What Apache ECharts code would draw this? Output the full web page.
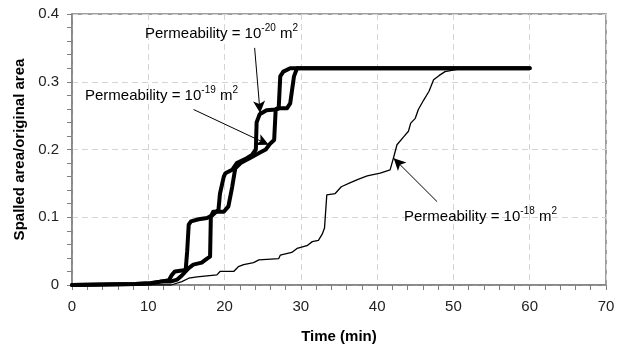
<!DOCTYPE html>
<html>
<head>
<meta charset="utf-8">
<script src="https://cdn.jsdelivr.net/npm/echarts@6/dist/echarts.min.js"></script>
<style>
html,body{margin:0;padding:0;background:#fff;}
#chart{width:624px;height:350px;}
</style>
</head>
<body>
<div id="chart"></div>
<script>
// ---- Data (time in min, spalled area / original area) ----
const perm20 = [[0,0],[8.3,0.0015],[10.3,0.0025],[11.6,0.005],[12.7,0.007],[13.1,0.015],[13.5,0.02],[14.9,0.022],[15.1,0.05],[15.3,0.089],[15.6,0.094],[16.6,0.097],[17.7,0.099],[18.4,0.103],[18.9,0.108],[19.2,0.111],[19.4,0.135],[19.9,0.16],[20.1,0.165],[21,0.17],[21.6,0.18],[22.9,0.187],[23.6,0.192],[24.1,0.2],[24.2,0.24],[24.6,0.252],[25.5,0.258],[26.7,0.259],[27.1,0.262],[27.3,0.308],[27.7,0.315],[28.6,0.32],[60,0.32]];
const perm19 = [[0,0],[8.3,0.0015],[10.3,0.0025],[11.6,0.005],[12.9,0.005],[13.8,0.008],[14.4,0.014],[15.3,0.025],[15.9,0.03],[17,0.033],[17.7,0.039],[18.1,0.042],[18.2,0.101],[18.5,0.108],[19.9,0.108],[20.5,0.116],[21,0.145],[21.4,0.172],[22.1,0.18],[23.4,0.188],[24.7,0.196],[25.4,0.2],[26,0.209],[26.5,0.214],[26.7,0.259],[27.3,0.261],[28.2,0.261],[28.6,0.268],[29.1,0.308],[29.5,0.32],[60,0.32]];
const perm18 = [[0,0],[13,0],[14.4,0.005],[15.3,0.01],[16.4,0.012],[19,0.015],[19.4,0.02],[21.2,0.02],[21.8,0.027],[22.5,0.03],[23.8,0.033],[24.5,0.037],[27.1,0.039],[27.3,0.044],[28.8,0.048],[29.5,0.054],[30.8,0.058],[31.5,0.064],[32.3,0.066],[32.8,0.075],[33.1,0.084],[33.4,0.133],[34.5,0.135],[35.3,0.145],[36.5,0.151],[37.5,0.156],[38.7,0.161],[40.4,0.165],[41.7,0.17],[42.2,0.19],[42.6,0.207],[43.5,0.219],[44.1,0.227],[44.4,0.239],[45,0.246],[45.4,0.259],[46.1,0.273],[46.8,0.286],[47.4,0.303],[48.1,0.309],[48.9,0.315],[50.3,0.318],[51.5,0.32],[60,0.32]];

// Annotation arrows [from, to] in data coordinates
const arrow20 = [[23.94,0.350],[24.66,0.254]];
const arrow19 = [[15.94,0.259],[25.78,0.207]];
const arrow18 = [[47.86,0.123],[42.17,0.187]];

const xTicks = {min:0, max:70, interval:10};
const yTicks = {min:0, max:0.4, interval:0.1};

const FONT = '"Liberation Sans", Arial, sans-serif';
const chart = echarts.init(document.getElementById('chart'), null, {renderer:'canvas'});

function arrowLine(a){
  return {
    silent:true, animation:false,
    symbol:['none','arrow'], symbolSize:[9,12],
    label:{show:false},
    lineStyle:{color:'#000', width:1, type:'solid'},
    emphasis:{disabled:true},
    data:[[{coord:a[0]},{coord:a[1]}]]
  };
}

function rich(){
  return {
    a:{fontSize:15, fontFamily:FONT, color:'#000', lineHeight:18, verticalAlign:'bottom'},
    s:{fontSize:10, fontFamily:FONT, color:'#000', lineHeight:18, verticalAlign:'top', padding:[0,0,0,0]}
  };
}

const option = {
  animation:false,
  backgroundColor:'#fff',
  grid:{left:72, right:18, top:14, bottom:65, show:true, borderColor:'#808080', borderWidth:1.5, backgroundColor:'transparent'},
  xAxis:{
    type:'value', min:xTicks.min, max:xTicks.max, interval:xTicks.interval,
    name:'Time (min)', nameLocation:'middle', nameGap:44,
    nameTextStyle:{fontFamily:FONT, fontWeight:'bold', fontSize:15, color:'#000'},
    axisLine:{lineStyle:{color:'#808080', width:1.5}},
    axisTick:{show:true, inside:false, length:5, lineStyle:{color:'#808080'}},
    minorTick:{show:true, splitNumber:5, length:5, lineStyle:{color:'#808080'}},
    axisLabel:{fontFamily:FONT, fontSize:15, color:'#222', margin:14},
    splitLine:{show:true, lineStyle:{color:'#d4d4d4', type:[6,4], width:1}}
  },
  yAxis:{
    type:'value', min:yTicks.min, max:yTicks.max, interval:yTicks.interval,
    name:'Spalled area/original area', nameLocation:'middle', nameGap:42,
    nameTextStyle:{fontFamily:FONT, fontWeight:'bold', fontSize:15, color:'#000'},
    axisLine:{show:true, lineStyle:{color:'#808080', width:1.5}},
    axisTick:{show:true, inside:false, length:5, lineStyle:{color:'#808080'}},
    minorTick:{show:true, splitNumber:5, length:5, lineStyle:{color:'#808080'}},
    axisLabel:{fontFamily:FONT, fontSize:15, color:'#222', margin:13},
    splitLine:{show:true, lineStyle:{color:'#d4d4d4', type:[6,4], width:1}}
  },
  series:[
    {name:'1e-18', type:'line', data:perm18, showSymbol:false, symbol:'none',
     lineStyle:{color:'#000', width:1.3}, z:2, markLine:arrowLine(arrow18)},
    {name:'1e-19', type:'line', data:perm19, showSymbol:false, symbol:'none',
     lineStyle:{color:'#000', width:4, join:'round', cap:'round'}, z:3, markLine:arrowLine(arrow19)},
    {name:'1e-20', type:'line', data:perm20, showSymbol:false, symbol:'none',
     lineStyle:{color:'#000', width:4, join:'round', cap:'round'}, z:3, markLine:arrowLine(arrow20)}
  ],
  graphic:[
    {type:'text', left:145, top:23, z:10, style:{text:'{a|Permeability = 10}{s|-20}{a| m}{s|2}', rich:rich()}},
    {type:'text', left:85, top:85, z:10, style:{text:'{a|Permeability = 10}{s|-19}{a| m}{s|2}', rich:rich()}},
    {type:'text', left:404, top:206, z:10, style:{text:'{a|Permeability = 10}{s|-18}{a| m}{s|2}', rich:rich()}}
  ]
};
chart.setOption(option);
</script>
</body>
</html>
